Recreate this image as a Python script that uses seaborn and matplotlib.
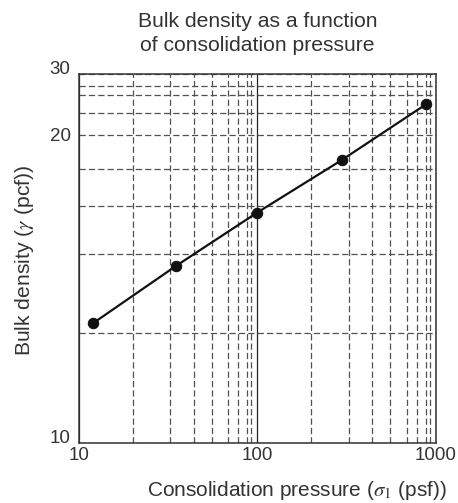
import numpy as np
import pandas as pd
import matplotlib
matplotlib.use("Agg")
import matplotlib.pyplot as plt
from matplotlib.ticker import FixedLocator, NullFormatter, FixedFormatter
import seaborn as sns

# ---- data ----
pressure_psf = [12, 35, 100, 297, 880]
bulk_density_pcf = [13.1, 14.9, 16.8, 18.9, 24.5]

x_ticks = [10, 100, 1000]
x_tick_labels = ["10", "100", "1000"]
y_ticks = [10, 20, 30]
y_tick_labels = ["10", "20", "30"]

# relative gridline pattern inside one decade, as drawn in the reference
grid_pattern = [0.30, 0.513, 0.643, 0.743, 0.837, 0.894, 0.944, 0.967]
Y20_FRAC = 0.835  # where the "20" label sits on the printed y axis

df = pd.DataFrame({"pressure": pressure_psf, "density": bulk_density_pcf})

sns.set_style("white")
plt.rcParams["font.family"] = ["Liberation Sans", "DejaVu Sans"]
plt.rcParams["mathtext.fontset"] = "stix"

fig = plt.figure(figsize=(4.58, 5.03), dpi=100)
ax = fig.add_axes([79 / 458, 1 - 443.3 / 503, 356.7 / 458, 369.3 / 503])


def y_fwd(y):
    y = np.asarray(y, dtype=float)
    yc = np.clip(y, 1e-9, None)
    lo = Y20_FRAC * np.log(yc / 10) / np.log(2)
    hi = Y20_FRAC + (1 - Y20_FRAC) * np.log(yc / 20) / np.log(1.5)
    return np.where(yc <= 20, lo, hi)


def y_inv(t):
    t = np.asarray(t, dtype=float)
    lo = 10 * 2 ** (t / Y20_FRAC)
    hi = 20 * 1.5 ** ((t - Y20_FRAC) / (1 - Y20_FRAC))
    return np.where(t <= Y20_FRAC, lo, hi)


ax.set_xscale("log")
ax.set_yscale("function", functions=(y_fwd, y_inv))

sns.lineplot(data=df, x="pressure", y="density", ax=ax, color="#111111",
             linewidth=1.6, marker="o", markersize=7.5,
             markeredgecolor="#111111", markerfacecolor="#111111", sort=False)

ax.set_xlim(10, 1000)
ax.set_ylim(10, 30)

# ticks
ax.xaxis.set_major_locator(FixedLocator(x_ticks))
ax.xaxis.set_major_formatter(FixedFormatter(x_tick_labels))
ax.yaxis.set_major_locator(FixedLocator(y_ticks))
ax.yaxis.set_major_formatter(FixedFormatter(y_tick_labels))

x_minor = [10 ** (d + f) for d in (1, 2) for f in grid_pattern]
y_minor = [float(y_inv(f)) for f in grid_pattern if abs(f - Y20_FRAC) > 0.01]
ax.xaxis.set_minor_locator(FixedLocator(x_minor))
ax.yaxis.set_minor_locator(FixedLocator(y_minor))
ax.xaxis.set_minor_formatter(NullFormatter())
ax.yaxis.set_minor_formatter(NullFormatter())

dash = dict(color="#505050", linestyle=(0, (5, 2.5)), linewidth=0.9)
ax.grid(True, axis="x", which="minor", **dash)
ax.grid(True, axis="y", which="both", **dash)
ax.grid(True, axis="x", which="major", color="#222222", linestyle="-", linewidth=0.9)
ax.set_axisbelow(True)

ax.tick_params(axis="both", which="both", length=0, labelsize=13.5,
               labelcolor="#333333")
ax.tick_params(axis="x", pad=2.5)
ax.tick_params(axis="y", pad=6)

# end labels of the y axis sit on (not centred at) the axis edges
for lab in ax.get_yticklabels():
    if lab.get_text() in ("10", "30"):
        lab.set_va("baseline")

for s in ax.spines.values():
    s.set_color("#333333")
    s.set_linewidth(1.1)

ax.set_xlabel(r"Consolidation pressure ($\sigma_1$ (psf))", fontsize=15,
              color="#333333")
ax.xaxis.set_label_coords(0.611, -0.127)
ax.xaxis.label.set_va("center")

ax.set_ylabel(r"Bulk density ($\gamma$ (pcf))", fontsize=15.2,
              color="#333333")
ax.yaxis.set_label_coords(-0.153, 0.496)
ax.yaxis.label.set_va("center")

ax.set_title("Bulk density as a function\nof consolidation pressure",
             fontsize=15.2, color="#333333", pad=0, y=1.1097, va="center",
             linespacing=1.35)

fig.savefig("out.png", dpi=100)
